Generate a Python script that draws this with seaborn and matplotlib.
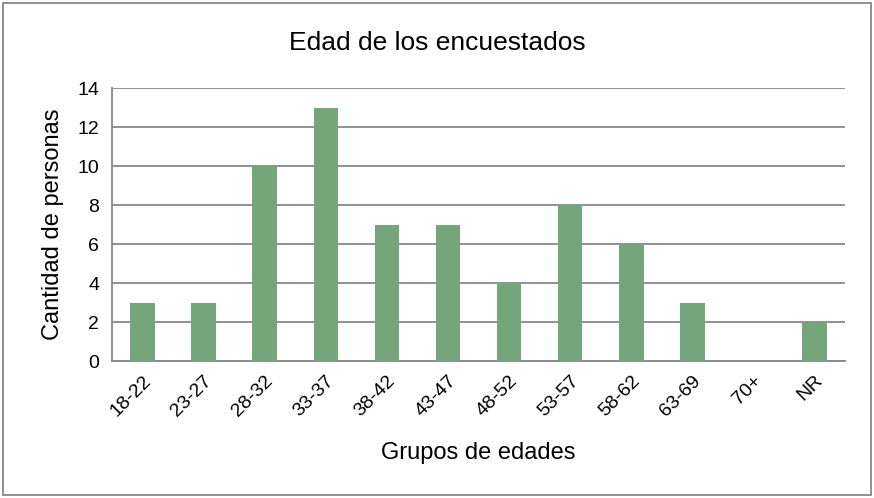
import matplotlib
matplotlib.use('Agg')
import matplotlib.pyplot as plt
import seaborn as sns
import pandas as pd

# Datos del grafico
grupos = ['18-22', '23-27', '28-32', '33-37', '38-42', '43-47',
          '48-52', '53-57', '58-62', '63-69', '70+', 'NR']
personas = [3, 3, 10, 13, 7, 7, 4, 8, 6, 3, 0, 2]

df = pd.DataFrame({'grupo': grupos, 'personas': personas})

sns.set_style('white')
plt.rcParams['font.family'] = ['Liberation Sans', 'DejaVu Sans']
plt.rcParams['text.color'] = 'black'
plt.rcParams['axes.labelcolor'] = 'black'
plt.rcParams['xtick.color'] = 'black'
plt.rcParams['ytick.color'] = 'black'

fig = plt.figure(figsize=(8.74, 4.98), dpi=100)
ax = fig.add_axes([0.128, 0.275, 0.839, 0.548])

sns.barplot(data=df, x='grupo', y='personas', color='#75A57A', width=0.4,
            saturation=1, linewidth=0, ax=ax, zorder=3)

ax.set_ylim(0, 14)
ax.set_yticks(range(0, 15, 2))
ax.set_xlim(-0.5, len(grupos) - 0.5)
ax.yaxis.grid(True, color='#888888', linewidth=1.3, zorder=0)
ax.set_axisbelow(True)

for s in ['top', 'right']:
    ax.spines[s].set_visible(False)
ax.spines['left'].set_color('#888888')
ax.spines['bottom'].set_color('#888888')
ax.spines['left'].set_linewidth(1.3)
ax.spines['bottom'].set_linewidth(1.3)

ax.tick_params(axis='y', length=5, color='#888888', width=1.3, labelsize=14, pad=4)
ax.tick_params(axis='x', length=0, labelsize=14, pad=8)
plt.setp(ax.get_xticklabels(), rotation=45, ha='right', rotation_mode='anchor')

ax.set_xlabel('Grupos de edades', fontsize=17, labelpad=16)
ax.set_ylabel('Cantidad de personas', fontsize=17, labelpad=10)
fig.text(0.5, 0.913, 'Edad de los encuestados', fontsize=19, ha='center', va='center')

# borde del grafico
border = plt.Rectangle((0.003, 0.006), 0.994, 0.988, transform=fig.transFigure,
                       fill=False, edgecolor='#888888', linewidth=1.3)
fig.patches.append(border)

fig.savefig('out.png', dpi=100)
